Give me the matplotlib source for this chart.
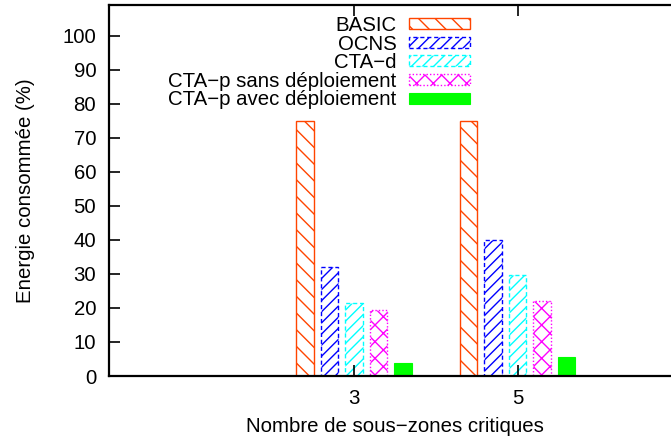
import matplotlib
matplotlib.use('Agg')
import matplotlib.pyplot as plt
import numpy as np

categories = ['3', '5']
series_names = ['BASIC', 'OCNS', 'CTA−d', 'CTA−p sans déploiement', 'CTA−p avec déploiement']
basic = [75, 75]
ocns = [32, 40]
cta_d = [21.5, 29.8]
cta_p_sans = [19.5, 22]
cta_p_avec = [3.8, 5.6]
yticks = list(range(0, 101, 10))

series = [basic, ocns, cta_d, cta_p_sans, cta_p_avec]
colors = ['#ff4500', '#0000ff', '#00ffff', '#ff00ff', '#00ff00']
hatches = ['\\\\', '///', '///', 'xx', None]
edgestyles = ['solid', (0, (3, 2)), (0, (3, 2)), (0, (1, 1.5)), 'solid']

FS = 14.7
plt.rcParams['font.family'] = ['Liberation Sans', 'DejaVu Sans']
plt.rcParams['hatch.linewidth'] = 1.0
plt.rcParams['font.size'] = FS

W, H = 671, 444
fig = plt.figure(figsize=(W / 100, H / 100), dpi=100)
ax = fig.add_axes([108.75 / W, 1 - 376 / H, (681 - 108.75) / W, (376 - 5) / H])

x = np.arange(len(categories))
step = 0.15
width = 0.107
for i, (vals, c, h, ls, name) in enumerate(zip(series, colors, hatches, edgestyles, series_names)):
    off = (i - 2) * step
    if h is None:
        ax.bar(x + off, vals, width, color=c, edgecolor=c, linewidth=0.8, label=name)
    else:
        ax.bar(x + off, vals, width, facecolor='white', edgecolor=c, hatch=h,
               linewidth=1.0, linestyle=ls, label=name)

ax.set_xlim(-1.5, 2.0)
ax.set_ylim(0, 109)
ax.set_xticks(x)
ax.set_xticklabels(categories)
ax.set_yticks(yticks)
ax.tick_params(axis='both', direction='in', length=8, width=1.2, labelsize=FS,
               top=True, right=False)
ax.tick_params(axis='y', pad=9)
ax.tick_params(axis='x', pad=9)
for s in ax.spines.values():
    s.set_linewidth(1.6)
ax.spines['right'].set_visible(False)

ax.set_ylabel('Energie consommée (%)', fontsize=FS, labelpad=20)
ax.set_xlabel('Nombre de sous−zones critiques', fontsize=FS, labelpad=7)

leg = ax.legend(loc='upper right', bbox_to_anchor=(470 / W, 1 - 16 / H),
                bbox_transform=fig.transFigure, frameon=False, markerfirst=False,
                fontsize=FS, borderpad=0, borderaxespad=0, labelspacing=-0.02,
                handlelength=3.0, handleheight=0.44, handletextpad=0.59)

fig.savefig('out.png', dpi=100)
